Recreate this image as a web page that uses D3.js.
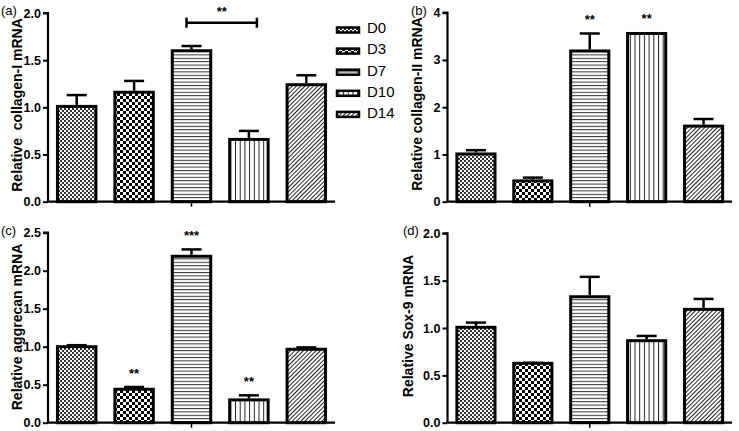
<!DOCTYPE html>
<html><head><meta charset="utf-8">
<script src="https://cdn.jsdelivr.net/npm/d3@7"></script>
<style>body{margin:0;background:#fff}svg{display:block}text{font-family:"Liberation Sans",Arial,sans-serif}</style>
</head><body>
<svg id="c" width="739" height="431"></svg>
<script>
const groups = ["D0","D3","D7","D10","D14"];
const colI_mean = [1.01, 1.16, 1.60, 0.66, 1.24];
const colI_err  = [0.12, 0.12, 0.05, 0.09, 0.10];
const colII_mean = [1.01, 0.44, 3.19, 3.56, 1.60];
const colII_err  = [0.08, 0.07, 0.37, 0.00, 0.15];
const agg_mean = [1.00, 0.44, 2.19, 0.30, 0.966];
const agg_err  = [0.02, 0.03, 0.09, 0.06, 0.025];
const sox_mean = [1.007, 0.627, 1.33, 0.866, 1.197];
const sox_err  = [0.05, 0.005, 0.21, 0.05, 0.11];
const colI_ticks = [0, 0.5, 1.0, 1.5, 2.0];
const colII_ticks = [0, 1, 2, 3, 4];
const agg_ticks = [0, 0.5, 1.0, 1.5, 2.0, 2.5];
const sox_ticks = [0, 0.5, 1.0, 1.5, 2.0];
const colI_stars = [null, null, null, null, null];
const colII_stars = [null, null, "**", "**", null];
const agg_stars = [null, "**", "***", "**", null];
const sox_stars = [null, null, null, null, null];

const svg = d3.select("#c");
const defs = svg.append("defs");
function pat(id, w, h, draw, transform){
  const p = defs.append("pattern").attr("id", id).attr("patternUnits","userSpaceOnUse")
    .attr("width", w).attr("height", h);
  if (transform) p.attr("patternTransform", transform);
  p.append("rect").attr("width", w).attr("height", h).attr("fill","#fff");
  draw(p);
}
pat("p0", 4, 4, p=>{
  p.append("rect").attr("x",0).attr("y",0).attr("width",2).attr("height",2).attr("fill","#333");
  p.append("rect").attr("x",2).attr("y",2).attr("width",2).attr("height",2).attr("fill","#333");
});
pat("p1", 6, 6, p=>{
  p.append("rect").attr("x",0).attr("y",0).attr("width",3).attr("height",3).attr("fill","#000");
  p.append("rect").attr("x",3).attr("y",3).attr("width",3).attr("height",3).attr("fill","#000");
});
pat("p2", 10, 3.4, p=>{
  p.append("rect").attr("x",0).attr("y",0).attr("width",10).attr("height",1).attr("fill","#333");
});
pat("p3", 4.7, 10, p=>{
  p.append("rect").attr("x",0).attr("y",0).attr("width",1).attr("height",10).attr("fill","#222");
});
pat("p4", 3, 10, p=>{
  p.append("rect").attr("x",0).attr("y",0).attr("width",1).attr("height",10).attr("fill","#222");
}, "rotate(45)");
const fills = ["url(#p0)","url(#p1)","url(#p2)","url(#p3)","url(#p4)"];

function panel(cfg){
  const g = svg.append("g");
  const x = d3.scaleBand().domain(groups).range([cfg.left, cfg.right]).paddingInner(0.33).paddingOuter(0.165);
  const y = d3.scaleLinear().domain([0, cfg.max]).range([cfg.bottom, cfg.top]);
  g.selectAll("rect.bar").data(groups).join("rect").attr("class","bar")
    .attr("x", d=>x(d)).attr("width", x.bandwidth())
    .attr("y", (d,i)=>y(cfg.mean[i])).attr("height",(d,i)=>y(0)-y(cfg.mean[i]))
    .attr("fill",(d,i)=>fills[i]).attr("stroke","#000").attr("stroke-width",3);
  groups.forEach((d,i)=>{
    const cx = x(d) + x.bandwidth()/2;
    if (cfg.err[i] > 0) {
      const yt = y(cfg.mean[i] + cfg.err[i]);
      g.append("line").attr("x1",cx).attr("x2",cx).attr("y1",y(cfg.mean[i])-1.5).attr("y2",yt)
        .attr("stroke","#000").attr("stroke-width",2.5);
      g.append("line").attr("x1",cx-10).attr("x2",cx+10).attr("y1",yt).attr("y2",yt)
        .attr("stroke","#000").attr("stroke-width",2.5);
      if (cfg.stars[i]) {
        g.append("text").attr("x",cx).attr("y",yt-9).attr("text-anchor","middle")
          .attr("font-size",13).attr("font-weight","bold").text(cfg.stars[i]);
      }
    } else if (cfg.stars[i]) {
      g.append("text").attr("x",cx).attr("y",y(cfg.mean[i])-10).attr("text-anchor","middle")
        .attr("font-size",13).attr("font-weight","bold").text(cfg.stars[i]);
    }
  });
  const ya = g.append("g").attr("transform",`translate(${cfg.left},0)`)
    .call(d3.axisLeft(y).tickValues(cfg.ticks).tickSize(5).tickPadding(2)
      .tickFormat(cfg.fmt));
  ya.select(".domain").attr("stroke-width",2.2).attr("d",`M-5,${cfg.top}H0V${cfg.bottom}`);
  ya.selectAll(".tick line").attr("stroke-width",2);
  ya.selectAll(".tick text").attr("font-size",12.5).attr("font-weight","bold").attr("fill","#000")
    .attr("font-family",'"Liberation Sans",Arial,sans-serif');
  g.append("line").attr("x1",cfg.left).attr("x2",cfg.right).attr("y1",cfg.bottom).attr("y2",cfg.bottom)
    .attr("stroke","#000").attr("stroke-width",2.2);
  const mid = x(groups[2]) + x.bandwidth()/2;
  g.append("line").attr("x1",mid).attr("x2",mid).attr("y1",cfg.bottom).attr("y2",cfg.bottom+5)
    .attr("stroke","#000").attr("stroke-width",1.5);
  g.append("text").attr("transform",`translate(${cfg.labelX},${cfg.labelY}) rotate(-90)`)
    .attr("text-anchor","middle").attr("font-size",14).attr("font-weight","bold")
    .style("white-space","pre").text(cfg.label);
  g.append("text").attr("x",cfg.letterX).attr("y",cfg.letterY).attr("font-size",13).text(cfg.letter);
  return {x, y, g};
}

const a = panel({left:48, right:335, top:13, bottom:201.7, max:2, mean:colI_mean, err:colI_err, stars:colI_stars,
  ticks:colI_ticks, fmt:d3.format(".1f"), label:"Relative  collagen-I mRNA", labelX:22, labelY:105, letter:"(a)", letterX:1, letterY:15});
const b = panel({left:447.5, right:732, top:12.7, bottom:201.7, max:4, mean:colII_mean, err:colII_err, stars:colII_stars,
  ticks:colII_ticks, fmt:d3.format("d"), label:"Relative collagen-II mRNA", labelX:422, labelY:104, letter:"(b)", letterX:411, letterY:15});
const c = panel({left:48, right:335, top:232.7, bottom:422.7, max:2.5, mean:agg_mean, err:agg_err, stars:agg_stars,
  ticks:agg_ticks, fmt:d3.format(".1f"), label:"Relative aggrecan mRNA", labelX:22, labelY:327, letter:"(c)", letterX:1, letterY:235});
const d = panel({left:447.5, right:732, top:233.3, bottom:422.7, max:2, mean:sox_mean, err:sox_err, stars:sox_stars,
  ticks:sox_ticks, fmt:d3.format(".1f"), label:"Relative Sox-9 mRNA", labelX:413, labelY:326, letter:"(d)", letterX:403, letterY:235});

{
  const x1 = a.x("D7") + a.x.bandwidth()/2 - 5, x2 = a.x("D10") + a.x.bandwidth()/2 + 8;
  const yb = 22.7;
  a.g.append("line").attr("x1",x1).attr("x2",x2).attr("y1",yb).attr("y2",yb).attr("stroke","#000").attr("stroke-width",2.5);
  [x1,x2].forEach(xx=>a.g.append("line").attr("x1",xx).attr("x2",xx).attr("y1",yb-5).attr("y2",yb+5).attr("stroke","#000").attr("stroke-width",2.5));
  a.g.append("text").attr("x",(x1+x2)/2).attr("y",16).attr("text-anchor","middle").attr("font-size",13).attr("font-weight","bold").text("**");
}

const lg = svg.append("g");
groups.forEach((gname,i)=>{
  const base = 33.3 + i*21.1;
  lg.append("rect").attr("x",337).attr("y",base-5.8).attr("width",22).attr("height",5).attr("fill",fills[i])
    .attr("stroke","#000").attr("stroke-width",2.5);
  lg.append("text").attr("x",367).attr("y",base).attr("font-size",15).text(gname);
});
</script>
</body></html>
